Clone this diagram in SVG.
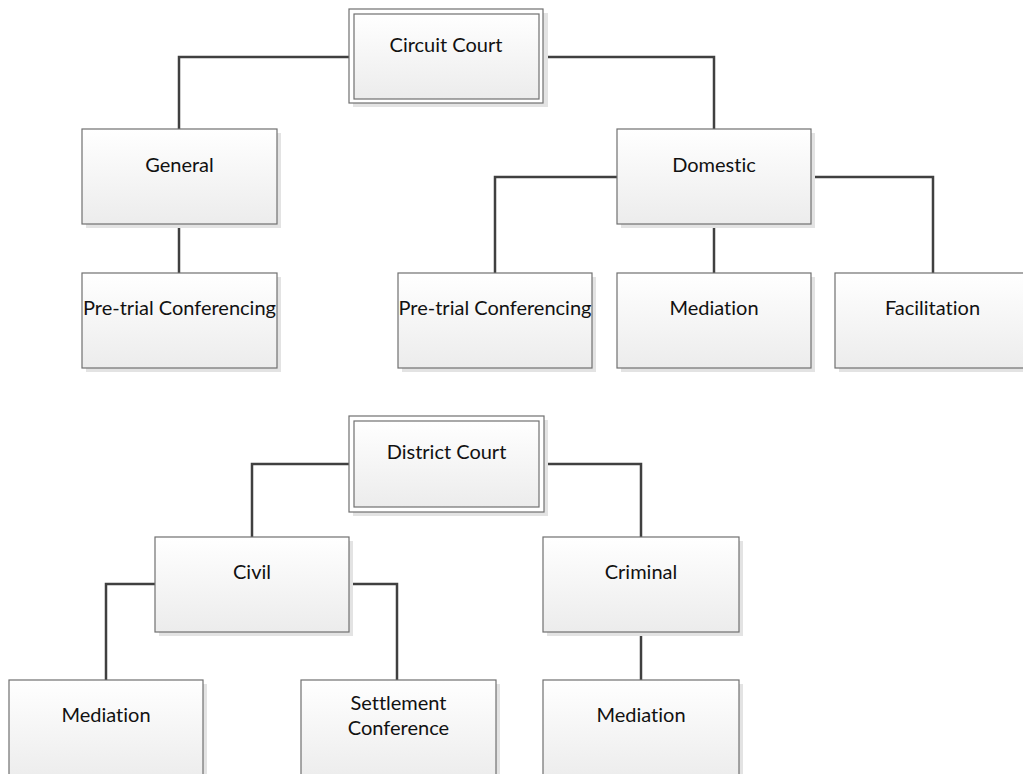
<svg xmlns="http://www.w3.org/2000/svg" width="1023" height="774" viewBox="0 0 1023 774">
<style>
.box{fill:url(#g);stroke:#707070;stroke-width:1.2}
.outer{fill:#ffffff;stroke:#707070;stroke-width:1.2}
.sh{fill:#e3e3e3}
.t{font-family:Lato,"Open Sans",sans-serif;font-size:20px;fill:#111111;text-anchor:middle;font-variant-ligatures:none}
.c{fill:none;stroke:#404040;stroke-width:2.5}
</style>
<defs>
<linearGradient id="g" x1="0" y1="0" x2="0" y2="1">
<stop offset="0" stop-color="#ffffff"/>
<stop offset="1" stop-color="#ececec"/>
</linearGradient>
</defs>
<rect width="1023" height="774" fill="#ffffff"/>
<g id="connectors">
<path class="c" d="M349,57 H179 V129"/>
<path class="c" d="M543,57 H714 V129"/>
<path class="c" d="M179,224 V273"/>
<path class="c" d="M617,177 H495 V273"/>
<path class="c" d="M811,177 H933 V273"/>
<path class="c" d="M714,224 V273"/>
<path class="c" d="M349,464 H252 V537"/>
<path class="c" d="M544,464 H641 V537"/>
<path class="c" d="M155,584 H106 V680"/>
<path class="c" d="M349,584 H397 V680"/>
<path class="c" d="M641,632 V680"/>
</g>
<g id="circuit-court">
<rect class="sh" x="353" y="13" width="195" height="94"/>
<rect class="outer" x="349" y="9" width="194" height="94"/>
<rect class="box" x="354" y="14" width="185" height="85"/>
<text class="t" x="446" y="52">Circuit Court</text>
</g>
<g id="general">
<rect class="sh" x="86" y="133" width="195" height="95"/>
<rect class="box" x="82" y="129" width="195" height="95"/>
<text class="t" x="179.5" y="172">General</text>
</g>
<g id="general-pretrial">
<rect class="sh" x="86" y="277" width="195" height="95"/>
<rect class="box" x="82" y="273" width="195" height="95"/>
<text class="t" x="179.5" y="315">Pre-trial Conferencing</text>
</g>
<g id="domestic">
<rect class="sh" x="621" y="133" width="194" height="95"/>
<rect class="box" x="617" y="129" width="194" height="95"/>
<text class="t" x="714" y="172">Domestic</text>
</g>
<g id="domestic-pretrial">
<rect class="sh" x="402" y="277" width="194" height="95"/>
<rect class="box" x="398" y="273" width="194" height="95"/>
<text class="t" x="495" y="315">Pre-trial Conferencing</text>
</g>
<g id="domestic-mediation">
<rect class="sh" x="621" y="277" width="194" height="95"/>
<rect class="box" x="617" y="273" width="194" height="95"/>
<text class="t" x="714" y="315">Mediation</text>
</g>
<g id="facilitation">
<rect class="sh" x="839" y="277" width="195" height="95"/>
<rect class="box" x="835" y="273" width="195" height="95"/>
<text class="t" x="932.5" y="315">Facilitation</text>
</g>
<g id="district-court">
<rect class="sh" x="353" y="420" width="195" height="96"/>
<rect class="outer" x="349" y="416" width="195" height="96"/>
<rect class="box" x="354" y="421" width="185" height="86"/>
<text class="t" x="446.5" y="459">District Court</text>
</g>
<g id="civil">
<rect class="sh" x="159" y="541" width="194" height="95"/>
<rect class="box" x="155" y="537" width="194" height="95"/>
<text class="t" x="252" y="579">Civil</text>
</g>
<g id="criminal">
<rect class="sh" x="547" y="541" width="196" height="95"/>
<rect class="box" x="543" y="537" width="196" height="95"/>
<text class="t" x="641" y="579">Criminal</text>
</g>
<g id="civil-mediation">
<rect class="sh" x="13" y="684" width="194" height="100"/>
<rect class="box" x="9" y="680" width="194" height="100"/>
<text class="t" x="106" y="722">Mediation</text>
</g>
<g id="settlement-conference">
<rect class="sh" x="305" y="684" width="195" height="100"/>
<rect class="box" x="301" y="680" width="195" height="100"/>
<text class="t" x="398.5" y="710">Settlement</text>
<text class="t" x="398.5" y="735">Conference</text>
</g>
<g id="criminal-mediation">
<rect class="sh" x="547" y="684" width="196" height="100"/>
<rect class="box" x="543" y="680" width="196" height="100"/>
<text class="t" x="641" y="722">Mediation</text>
</g>
</svg>
